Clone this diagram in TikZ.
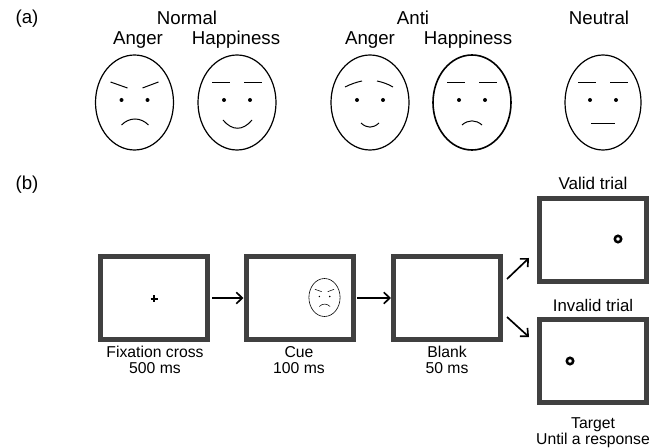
\documentclass[tikz,border=0pt]{standalone}
\usepackage{fontspec}
\setmainfont{Liberation Sans}
\usetikzlibrary{calc,arrows.meta}
% face parts, drawn around the face centre
\def\head{\draw[headline] (0,0) ellipse (39 and 47.5);}
\def\eyes{\fill (-13,-2.5) circle (2); \fill (13,-2.5) circle (2);}
\def\flatbrows{\draw (-25,-19.5) -- (-7,-19.5); \draw (7,-19.5) -- (25,-19.5);}

\begin{document}
\begin{tikzpicture}[x=0.75pt, y=-0.75pt,
		headline/.style={line width=0.9pt},
		lbla/.style={font=\fontsize{14}{17}\selectfont, anchor=base, inner sep=0pt},
		lblb/.style={font=\fontsize{11.8}{12}\selectfont, align=center, anchor=north, inner sep=0pt},
		screen/.style={draw=black!75, line width=3.75pt, minimum width=80.25pt, minimum height=62.25pt, inner sep=0pt},
		arr/.style={line width=1.25pt, -{Straight Barb[length=4.5pt,width=8.5pt]}}]
			%%%%% START %%%%%
			\useasboundingbox (0,0) rectangle (652,448);
			
			%% (a) faces
			\node[lbla, anchor=center] (tagA) at (27,19) {(a)};
			\node[lbla] (normal) at (187,25) {Normal};
			\node[lbla] (anti) at (413,25) {Anti};
			\node[lbla] (neutral) at (599,25) {Neutral};
			\node[lbla] (angerN) at (138,45) {Anger};
			\node[lbla] (happyN) at (236,45) {Happiness};
			\node[lbla] (angerA) at (370,45) {Anger};
			\node[lbla] (happyA) at (468,45) {Happiness};
			
			\begin{scope}[shift={(134.5,102.5)}, line width=0.75pt]
				\head \eyes
				\draw (-24,-20.5) -- (-7,-14.5);
				\draw (8,-14.5) -- (24,-20.5);
				\draw (-13,22.5) .. controls (-5,14.5) and (6,14.5) .. (14,22.5);
			\end{scope}
			
			\begin{scope}[shift={(237,102.5)}, line width=0.75pt]
				\head \eyes \flatbrows
				\draw (-14,17.5) .. controls (-5,28.5) and (6,28.5) .. (15,17.5);
			\end{scope}
			
			\begin{scope}[shift={(370,102.5)}, line width=0.75pt]
				\head \eyes
				\draw (-25,-15.5) .. controls (-19,-18.5) and (-13,-20.5) .. (-8,-21.5);
				\draw (7,-21.5) .. controls (12,-20.5) and (18,-18.5) .. (23,-15.5);
				\draw (-9,20.5) .. controls (-3,26) and (3,26) .. (9,20.5);
			\end{scope}
			
			\begin{scope}[shift={(472,102.5)}, line width=0.75pt, headline/.style={line width=1.2pt}]
				\head \eyes \flatbrows
				\draw (-10,22.5) .. controls (-4,17) and (4,17) .. (10,22.5);
			\end{scope}
			
			\begin{scope}[shift={(603,102.5)}, line width=0.75pt]
				\draw[headline] (0,0) ellipse (38 and 47.5);
				\eyes \flatbrows
				\draw (-12,21.5) -- (12,21.5);
			\end{scope}
			
			%% (b) trial sequence
			\node[lbla, anchor=center] (tagB) at (27,185) {(b)};
			
			\node[screen] (fix) at (154,298) {};
			\node[screen] (cue) at (299.5,298) {};
			\node[screen] (blank) at (447,298) {};
			\node[screen] (valid) at (593,240) {};
			\node[screen] (invalid) at (593,361) {};
			
			\draw[line width=1pt] (150.5,299) -- (157.5,299);
			\draw[line width=1pt] (154,295.5) -- (154,302.5);
			
			\begin{scope}[shift={(324.5,297.5)}, scale=0.4, line width=0.4pt, headline/.style={line width=0.45pt}]
				\head \eyes
				\draw (-24,-20.5) -- (-7,-14.5);
				\draw (8,-14.5) -- (24,-20.5);
				\draw (-13,22.5) .. controls (-5,14.5) and (6,14.5) .. (14,22.5);
			\end{scope}
			
			\draw[line width=1.9pt] (618,239) circle (3.2);
			\draw[line width=1.9pt] (570,361) circle (3.2);
			
			\draw[arr, shorten <=1.5pt] (fix.east) -- (cue.west);
			\draw[arr, shorten <=1pt] (cue.east) -- (blank.west);
			\draw[arr] ($(blank.east)+(4,-19)$) -- ($(valid.south west)+(-8,-26)$);
			\draw[arr] ($(blank.east)+(4,19)$) -- ($(invalid.north west)+(-8,20)$);
			
			\node[lblb] (fixlbl) at (155,346) {Fixation cross\\500 ms};
			\node[lblb] (cuelbl) at (299,346) {Cue\\100 ms};
			\node[lblb] (blanklbl) at (447,346) {Blank\\50 ms};
			\node[lblb, font=\fontsize{12.8}{15}\selectfont] (validlbl) at (593,177) {Valid trial};
			\node[lblb, font=\fontsize{12.6}{15}\selectfont] (invalidlbl) at (593,299) {Invalid trial};
			\node[lblb] (targetlbl) at (593,417) {Target\\Until a response};
			
			%%%%% END %%%%%
\end{tikzpicture}
\end{document}
